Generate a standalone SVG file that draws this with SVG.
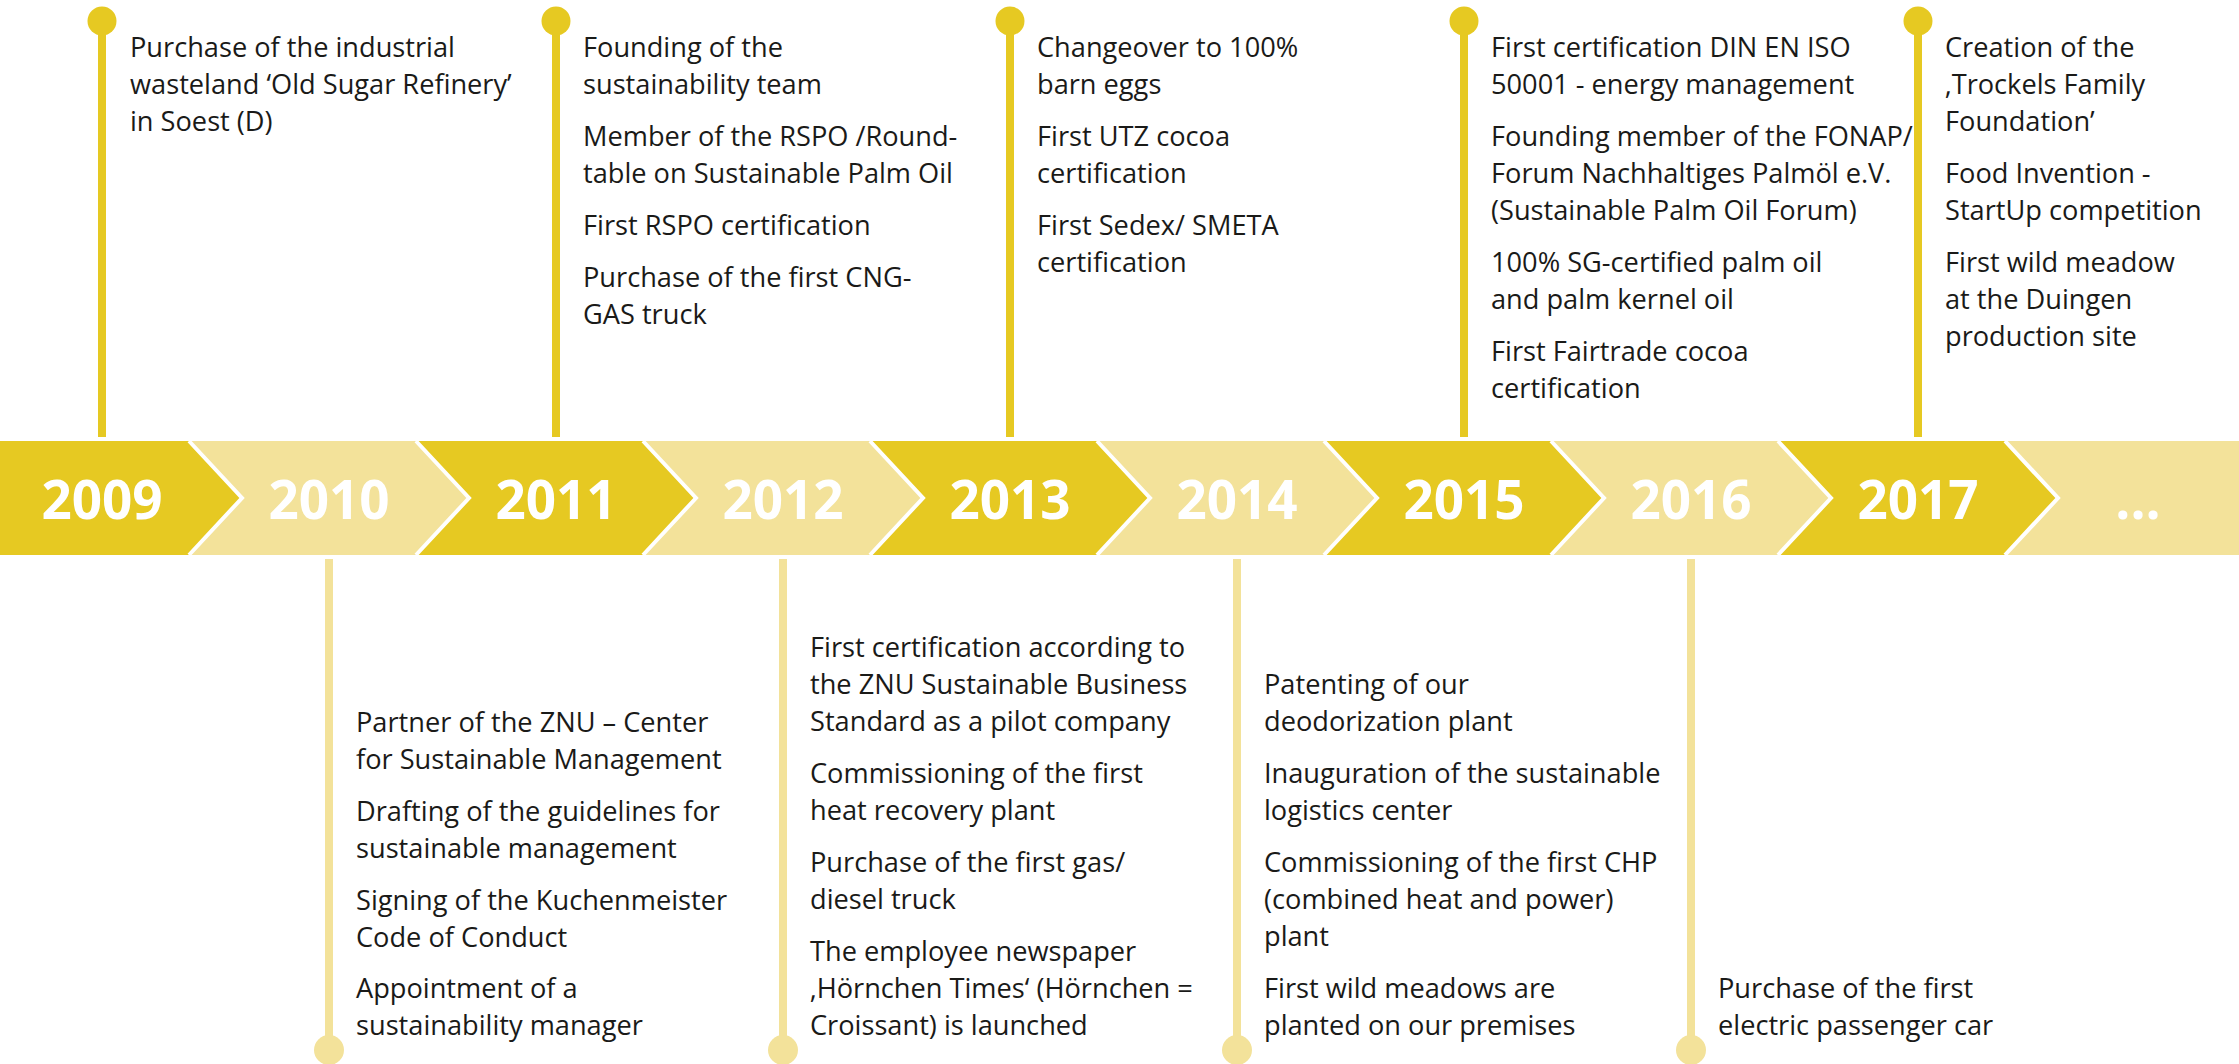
<svg xmlns="http://www.w3.org/2000/svg" width="2239" height="1064" viewBox="0 0 2239 1064">
  <style>
    .dark { fill: #E6C922; }
    .light { fill: #F3E29A; }
    .sep { fill: none; stroke: #FFFFFF; stroke-width: 4; stroke-linejoin: miter; }
    .year { font-family: "Open Sans", "Liberation Sans", sans-serif; font-weight: 700; font-size: 53px; fill: #FFFFFF; text-anchor: middle; }
    .txt { font-family: "Open Sans", "Liberation Sans", sans-serif; font-size: 27.2px; fill: #1A1A18; }
    .pin-top line { stroke: #E6C922; stroke-width: 8; }
    .pin-top circle { fill: #E6C922; }
    .pin-bot line { stroke: #F3E29A; stroke-width: 8; }
    .pin-bot circle { fill: #F3E29A; }
  </style>

  <!-- timeline band: chevron segments -->
  <g id="band">
    <polygon class="dark"  points="0,441 189,441 242,498 189,555 0,555"/>
    <polygon class="light" points="189,441 416,441 469,498 416,555 189,555 242,498"/>
    <polygon class="dark"  points="416,441 643,441 696,498 643,555 416,555 469,498"/>
    <polygon class="light" points="643,441 870,441 923,498 870,555 643,555 696,498"/>
    <polygon class="dark"  points="870,441 1097,441 1150,498 1097,555 870,555 923,498"/>
    <polygon class="light" points="1097,441 1324,441 1377,498 1324,555 1097,555 1150,498"/>
    <polygon class="dark"  points="1324,441 1551,441 1604,498 1551,555 1324,555 1377,498"/>
    <polygon class="light" points="1551,441 1778,441 1831,498 1778,555 1551,555 1604,498"/>
    <polygon class="dark"  points="1778,441 2005,441 2058,498 2005,555 1778,555 1831,498"/>
    <polygon class="light" points="2005,441 2239,441 2239,555 2005,555 2058,498"/>
    <polyline class="sep" points="189,441 242,498 189,555"/>
    <polyline class="sep" points="416,441 469,498 416,555"/>
    <polyline class="sep" points="643,441 696,498 643,555"/>
    <polyline class="sep" points="870,441 923,498 870,555"/>
    <polyline class="sep" points="1097,441 1150,498 1097,555"/>
    <polyline class="sep" points="1324,441 1377,498 1324,555"/>
    <polyline class="sep" points="1551,441 1604,498 1551,555"/>
    <polyline class="sep" points="1778,441 1831,498 1778,555"/>
    <polyline class="sep" points="2005,441 2058,498 2005,555"/>
  </g>

  <!-- year labels -->
  <g id="years">
    <text class="year" x="102" y="519">2009</text>
    <text class="year" x="329" y="519">2010</text>
    <text class="year" x="556" y="519">2011</text>
    <text class="year" x="783" y="519">2012</text>
    <text class="year" x="1010" y="519">2013</text>
    <text class="year" x="1237" y="519">2014</text>
    <text class="year" x="1464" y="519">2015</text>
    <text class="year" x="1691" y="519">2016</text>
    <text class="year" x="1918" y="519">2017</text>
    <text class="year" x="2138" y="519">...</text>
  </g>

  <!-- pins -->
  <g id="connectors">
    <g class="pin-top">
      <line x1="102" y1="21" x2="102" y2="437"/><circle cx="102" cy="21" r="14.5"/>
      <line x1="556" y1="21" x2="556" y2="437"/><circle cx="556" cy="21" r="14.5"/>
      <line x1="1010" y1="21" x2="1010" y2="437"/><circle cx="1010" cy="21" r="14.5"/>
      <line x1="1464" y1="21" x2="1464" y2="437"/><circle cx="1464" cy="21" r="14.5"/>
      <line x1="1918" y1="21" x2="1918" y2="437"/><circle cx="1918" cy="21" r="14.5"/>
    </g>
    <g class="pin-bot">
      <line x1="329" y1="559" x2="329" y2="1050"/><circle cx="329" cy="1050" r="15"/>
      <line x1="783" y1="559" x2="783" y2="1050"/><circle cx="783" cy="1050" r="15"/>
      <line x1="1237" y1="559" x2="1237" y2="1050"/><circle cx="1237" cy="1050" r="15"/>
      <line x1="1691" y1="559" x2="1691" y2="1050"/><circle cx="1691" cy="1050" r="15"/>
    </g>
  </g>

  <!-- milestone texts -->
  <g id="y2009" class="txt">
    <text x="130" y="57">Purchase of the industrial</text>
    <text x="130" y="94">wasteland ‘Old Sugar Refinery’</text>
    <text x="130" y="131">in Soest (D)</text>
  </g>
  <g id="y2010" class="txt">
    <text x="356" y="732">Partner of the ZNU – Center</text>
    <text x="356" y="769">for Sustainable Management</text>
    <text x="356" y="821">Drafting of the guidelines for</text>
    <text x="356" y="858">sustainable management</text>
    <text x="356" y="910">Signing of the Kuchenmeister</text>
    <text x="356" y="947">Code of Conduct</text>
    <text x="356" y="998">Appointment of a</text>
    <text x="356" y="1035">sustainability manager</text>
  </g>
  <g id="y2011" class="txt">
    <text x="583" y="57">Founding of the</text>
    <text x="583" y="94">sustainability team</text>
    <text x="583" y="146">Member of the RSPO /Round-</text>
    <text x="583" y="183">table on Sustainable Palm Oil</text>
    <text x="583" y="235">First RSPO certification</text>
    <text x="583" y="287">Purchase of the first CNG-</text>
    <text x="583" y="324">GAS truck</text>
  </g>
  <g id="y2012" class="txt">
    <text x="810" y="657">First certification according to</text>
    <text x="810" y="694">the ZNU Sustainable Business</text>
    <text x="810" y="731">Standard as a pilot company</text>
    <text x="810" y="783">Commissioning of the first</text>
    <text x="810" y="820">heat recovery plant</text>
    <text x="810" y="872">Purchase of the first gas/</text>
    <text x="810" y="909">diesel truck</text>
    <text x="810" y="961">The employee newspaper</text>
    <text x="810" y="998">‚Hörnchen Times‘ (Hörnchen =</text>
    <text x="810" y="1035">Croissant) is launched</text>
  </g>
  <g id="y2013" class="txt">
    <text x="1037" y="57">Changeover to 100%</text>
    <text x="1037" y="94">barn eggs</text>
    <text x="1037" y="146">First UTZ cocoa</text>
    <text x="1037" y="183">certification</text>
    <text x="1037" y="235">First Sedex/ SMETA</text>
    <text x="1037" y="272">certification</text>
  </g>
  <g id="y2014" class="txt">
    <text x="1264" y="694">Patenting of our</text>
    <text x="1264" y="731">deodorization plant</text>
    <text x="1264" y="783">Inauguration of the sustainable</text>
    <text x="1264" y="820">logistics center</text>
    <text x="1264" y="872">Commissioning of the first CHP</text>
    <text x="1264" y="909">(combined heat and power)</text>
    <text x="1264" y="946">plant</text>
    <text x="1264" y="998">First wild meadows are</text>
    <text x="1264" y="1035">planted on our premises</text>
  </g>
  <g id="y2015" class="txt">
    <text x="1491" y="57">First certification DIN EN ISO</text>
    <text x="1491" y="94">50001 - energy management</text>
    <text x="1491" y="146">Founding member of the FONAP/</text>
    <text x="1491" y="183">Forum Nachhaltiges Palmöl e.V.</text>
    <text x="1491" y="220">(Sustainable Palm Oil Forum)</text>
    <text x="1491" y="272">100% SG-certified palm oil</text>
    <text x="1491" y="309">and palm kernel oil</text>
    <text x="1491" y="361">First Fairtrade cocoa</text>
    <text x="1491" y="398">certification</text>
  </g>
  <g id="y2016" class="txt">
    <text x="1718" y="998">Purchase of the first</text>
    <text x="1718" y="1035">electric passenger car</text>
  </g>
  <g id="y2017" class="txt">
    <text x="1945" y="57">Creation of the</text>
    <text x="1945" y="94">‚Trockels Family</text>
    <text x="1945" y="131">Foundation’</text>
    <text x="1945" y="183">Food Invention -</text>
    <text x="1945" y="220">StartUp competition</text>
    <text x="1945" y="272">First wild meadow</text>
    <text x="1945" y="309">at the Duingen</text>
    <text x="1945" y="346">production site</text>
  </g>
</svg>
